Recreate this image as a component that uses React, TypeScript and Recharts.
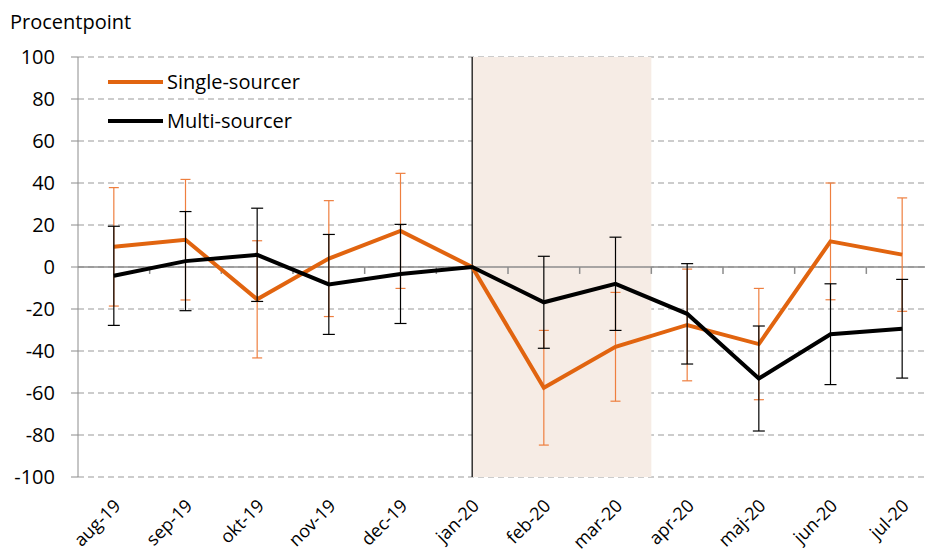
import React from 'react'
import {
  CartesianGrid,
  ErrorBar,
  Line,
  LineChart,
  ReferenceArea,
  ReferenceLine,
  XAxis,
  YAxis,
} from 'recharts'

const months = [
  'aug-19', 'sep-19', 'okt-19', 'nov-19', 'dec-19', 'jan-20',
  'feb-20', 'mar-20', 'apr-20', 'maj-20', 'jun-20', 'jul-20',
]
const singleValues = [9.6, 13, -15.4, 4, 17.2, 0, -57.5, -38, -27.6, -36.7, 12.2, 5.9]
const singleErrors = [28.2, 28.7, 27.9, 27.6, 27.4, null, 27.3, 25.9, 26.6, 26.5, 27.8, 27]
const multiValues = [-4.2, 2.8, 5.8, -8.3, -3.3, 0, -16.8, -8, -22.3, -53.1, -32, -29.4]
const multiErrors = [23.6, 23.6, 22.2, 23.8, 23.6, null, 21.9, 22.2, 23.9, 25, 24, 23.5]
const yTicks = [-100, -80, -60, -40, -20, 0, 20, 40, 60, 80, 100]

// shaded period: from jan-20 to the boundary between mar-20 and apr-20
const shadeStart = 'jan-20'
const shadeEnd = 'mar-20'

const FONT = '"Open Sans", Lato, sans-serif'
const FONT_SIZE = 20
const ORANGE = '#E1640F'
const ORANGE_ERR = '#EE7F3F'
const AXIS_GRAY = '#8C8C8C'

const rows = months.map((month, i) => ({
  idx: i,
  month,
  single: singleValues[i],
  singleErr: singleErrors[i],
  multi: multiValues[i],
  multiErr: multiErrors[i],
}))

const legendItems = [
  { name: 'Single-sourcer', color: ORANGE },
  { name: 'Multi-sourcer', color: '#000' },
]

function MonthTick({ x, y, payload }: any) {
  const ax = x + 8
  const ay = y + 28
  return (
    <text
      x={ax}
      y={ay}
      textAnchor="end"
      fontSize={18}
      fontFamily={FONT}
      fill="#000"
      transform={`rotate(-45, ${ax}, ${ay})`}
    >
      {months[payload.value]}
    </text>
  )
}

function LegendBox() {
  return (
    <div style={{ position: 'absolute', left: 108, top: 62, fontSize: FONT_SIZE, color: '#000' }}>
      {legendItems.map((item) => (
        <div key={item.name} style={{ display: 'flex', alignItems: 'center', height: 39 }}>
          <span style={{ display: 'inline-block', width: 55, height: 4, background: item.color, marginRight: 4 }} />
          <span>{item.name}</span>
        </div>
      ))}
    </div>
  )
}

export default function App() {
  const boundaryTicks = months.slice(1).map((_, i) => i + 0.5)
  const startIdx = months.indexOf(shadeStart)
  const endIdx = months.indexOf(shadeEnd) + 0.5

  return (
    <div
      style={{
        position: 'fixed',
        left: 0,
        top: 0,
        width: 925,
        height: 555,
        overflow: 'hidden',
        background: '#fff',
        fontFamily: FONT,
      }}
    >
      <div style={{ position: 'absolute', left: 10, top: 8, fontSize: FONT_SIZE }}>Procentpoint</div>
      <LineChart width={940} height={555} data={rows} margin={{ top: 57, right: 2, bottom: 0, left: 0 }}>
        <ReferenceArea x1={startIdx} x2={endIdx} fill="#F6ECE5" fillOpacity={1} stroke="none" />
        <CartesianGrid vertical={false} stroke="#9A9A9A" strokeDasharray="6 4" strokeWidth={1.2} />
        <XAxis
          dataKey="idx"
          type="number"
          domain={[-0.5, months.length - 0.5]}
          ticks={months.map((_, i) => i)}
          interval={0}
          axisLine={false}
          tickLine={false}
          tickSize={0}
          height={78}
          tick={<MonthTick />}
        />
        <YAxis
          domain={[-100, 100]}
          ticks={yTicks}
          interval={0}
          width={78}
          stroke={AXIS_GRAY}
          tickSize={7}
          tickMargin={16}
          tick={{ fill: '#000', fontSize: FONT_SIZE, fontFamily: FONT }}
        />
        <ReferenceLine y={0} stroke={AXIS_GRAY} strokeWidth={1.5} />
        {boundaryTicks.map((b) => (
          <ReferenceLine
            key={b}
            segment={[{ x: b, y: 0 }, { x: b, y: -3.3 }]}
            stroke={AXIS_GRAY}
            strokeWidth={1.5}
          />
        ))}
        <ReferenceLine x={startIdx} stroke="#000" strokeWidth={1.2} />
        <Line
          type="linear"
          dataKey="single"
          name="Single-sourcer"
          stroke={ORANGE}
          strokeWidth={4}
          dot={false}
          activeDot={false}
          isAnimationActive={false}
        >
          <ErrorBar dataKey="singleErr" width={5} stroke={ORANGE_ERR} strokeWidth={1.2} direction="y" isAnimationActive={false} />
        </Line>
        <Line
          type="linear"
          dataKey="multi"
          name="Multi-sourcer"
          stroke="#000"
          strokeWidth={4}
          dot={false}
          activeDot={false}
          isAnimationActive={false}
        >
          <ErrorBar dataKey="multiErr" width={6} stroke="#000" strokeWidth={1.2} direction="y" isAnimationActive={false} />
        </Line>
      </LineChart>
      <LegendBox />
    </div>
  )
}
